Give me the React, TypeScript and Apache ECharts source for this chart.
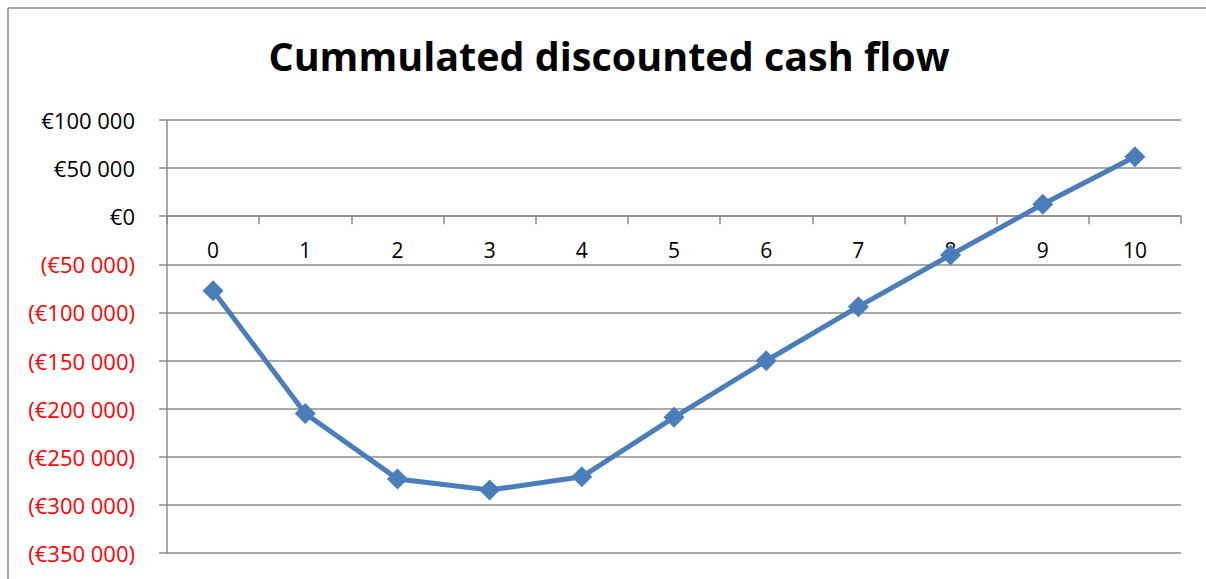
import React, { useEffect, useRef } from "react";
import * as echarts from "echarts";

const titleText = "Cummulated discounted cash flow";
const years = ["0", "1", "2", "3", "4", "5", "6", "7", "8", "9", "10"];
const cumulatedCashFlow = [
  -77400, -205000, -273000, -284600, -270800, -209000, -150200, -94000, -40300, 12400, 61800,
];
const yMin = -350000;
const yMax = 100000;
const yStep = 50000;

const GRAY = "#8c8c8c";
const BLUE = "#4a7ebb";
const FONT = "Open Sans";

const GRID_TOP = 120;
const GRID_BOTTOM = 26;
const CHART_H = 579;

function groupThousands(n: number): string {
  return String(Math.round(n)).replace(/\B(?=(\d{3})+(?!\d))/g, " ");
}

export default function App() {
  const ref = useRef<HTMLDivElement>(null);
  useEffect(() => {
    if (!ref.current) return;
    const chart = echarts.init(ref.current, undefined, { renderer: "svg" });
    // place the category axis on the zero line of the value axis
    const plotH = CHART_H - GRID_TOP - GRID_BOTTOM;
    const zeroOffset = -((0 - yMin) / (yMax - yMin)) * plotH;
    chart.setOption({
      animation: false,
      backgroundColor: "#ffffff",
      grid: {
        left: 167,
        top: GRID_TOP,
        right: 25,
        bottom: GRID_BOTTOM,
        containLabel: false,
        outerBoundsMode: "none",
      },
      graphic: [
        { type: "line", shape: { x1: 8, y1: 8, x2: 1206, y2: 8 }, style: { stroke: GRAY, lineWidth: 1.5 } },
        { type: "line", shape: { x1: 8, y1: 8, x2: 8, y2: 579 }, style: { stroke: GRAY, lineWidth: 1.5 } },
        {
          type: "text",
          x: 609,
          y: 56,
          style: {
            text: titleText,
            fontFamily: FONT,
            fontWeight: "bold",
            fontSize: 39.5,
            fill: "#000",
            align: "center",
            verticalAlign: "middle",
          },
        },
      ],
      xAxis: {
        type: "category",
        data: years,
        position: "bottom",
        offset: zeroOffset,
        boundaryGap: true,
        axisLine: { show: true, onZero: false, lineStyle: { color: GRAY, width: 1.5 } },
        axisTick: { show: true, length: 8, alignWithLabel: false, lineStyle: { color: GRAY, width: 1.5 } },
        axisLabel: { margin: 23, fontFamily: FONT, fontSize: 21, color: "#000" },
        splitLine: { show: false },
      },
      yAxis: {
        type: "value",
        min: yMin,
        max: yMax,
        interval: yStep,
        axisLine: { show: true, lineStyle: { color: GRAY, width: 1.5 } },
        axisTick: { show: true, length: 8, lineStyle: { color: GRAY, width: 1.5 } },
        splitLine: { show: true, lineStyle: { color: GRAY, width: 1.5 } },
        axisLabel: {
          margin: 32,
          fontFamily: FONT,
          fontSize: 22,
          formatter: (v: number) =>
            v < 0 ? `{neg|(€${groupThousands(-v)})}` : `{pos|€${groupThousands(v)}}`,
          rich: {
            neg: { color: "#ff0000", fontFamily: FONT, fontSize: 22 },
            pos: { color: "#000000", fontFamily: FONT, fontSize: 22 },
          },
        },
      },
      series: [
        {
          type: "line",
          data: cumulatedCashFlow,
          symbol: "diamond",
          symbolSize: 21,
          lineStyle: { color: BLUE, width: 5 },
          itemStyle: { color: BLUE },
          z: 5,
        },
      ],
    });
    return () => chart.dispose();
  }, []);
  return (
    <div
      ref={ref}
      style={{ position: "absolute", left: 0, top: 0, width: 1206, height: CHART_H }}
    />
  );
}
